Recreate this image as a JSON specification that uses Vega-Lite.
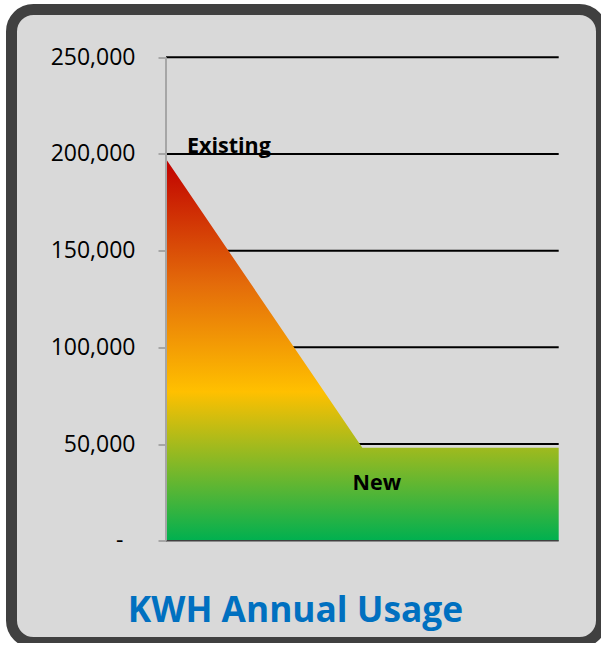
{
  "$schema": "https://vega.github.io/schema/vega-lite/v6.json",
  "width": 590,
  "height": 633,
  "autosize": {"type": "none"},
  "padding": {"left": 11.5, "top": 9.5, "right": 0, "bottom": 0},
  "background": "white",
  "title": {
    "text": "KWH Annual Usage",
    "orient": "bottom",
    "anchor": "middle",
    "offset": -20.5,
    "dx": -11,
    "baseline": "alphabetic",
    "font": "Open Sans",
    "fontSize": 35.3,
    "fontWeight": "bold",
    "color": "#0070c0"
  },
  "datasets": {
    "usage": [
      {"stage": 0, "kwh": 197400, "label": "Existing"},
      {"stage": 1, "kwh": 48100, "label": "New"},
      {"stage": 2, "kwh": 48100, "label": ""}
    ],
    "grid": [
      {"v": 0}, {"v": 50000}, {"v": 100000}, {"v": 150000}, {"v": 200000}, {"v": 250000}
    ]
  },
  "layer": [
    {
      "data": {"name": "grid"},
      "transform": [{"filter": "datum.v > 0"}],
      "mark": {"type": "rule", "color": "#000000", "strokeWidth": 2},
      "encoding": {
        "y": {
          "field": "v",
          "type": "quantitative",
          "scale": {"domain": [-52650, 274720], "nice": false, "zero": false},
          "axis": {
            "offset": -154.5,
            "domain": false,
            "grid": false,
            "values": [0, 50000, 100000, 150000, 200000, 250000],
            "tickSize": 8,
            "tickColor": "#a6a6a6",
            "tickWidth": 2,
            "labelPadding": {"condition": {"test": "datum.value == 0", "value": 35}, "value": 23},
            "labelFont": "Open Sans",
            "labelFontSize": 23,
            "labelColor": "#000000",
            "labelExpr": "datum.value == 0 ? '-' : format(datum.value, ',')",
            "title": null
          }
        },
        "x": {"datum": 0, "type": "quantitative", "scale": {"domain": [-0.7869, 2.218], "nice": false, "zero": false}, "axis": null},
        "x2": {"datum": 2}
      }
    },
    {
      "data": {"name": "usage"},
      "mark": {
        "type": "area",
        "color": {
          "gradient": "linear",
          "x1": 0, "y1": 0, "x2": 0, "y2": 1,
          "stops": [
            {"offset": 0, "color": "#c00000"},
            {"offset": 0.33, "color": "#e46c0a"},
            {"offset": 0.61, "color": "#ffc000"},
            {"offset": 1, "color": "#00b050"}
          ]
        }
      },
      "encoding": {
        "x": {"field": "stage", "type": "quantitative", "axis": null},
        "y": {"field": "kwh", "type": "quantitative"},
        "y2": {"datum": 0}
      }
    },
    {
      "data": {"values": [{"base": 0}]},
      "mark": {"type": "rule", "color": "#404040", "strokeWidth": 1.5},
      "encoding": {
        "y": {"field": "base", "type": "quantitative"},
        "x": {"datum": 0, "type": "quantitative", "axis": null},
        "x2": {"datum": 2}
      }
    },
    {
      "data": {"values": [{"stage": 0, "lo": 0, "hi": 250000}]},
      "mark": {"type": "rule", "color": "#a6a6a6", "strokeWidth": 2},
      "encoding": {
        "x": {"field": "stage", "type": "quantitative", "axis": null},
        "y": {"field": "lo", "type": "quantitative"},
        "y2": {"field": "hi"}
      }
    },
    {
      "data": {"name": "usage"},
      "transform": [{"filter": "datum.label == 'Existing'"}],
      "mark": {"type": "text", "align": "left", "baseline": "alphabetic", "dx": 21, "dy": -5.7, "font": "Open Sans", "fontSize": 21.5, "fontWeight": "bold", "color": "#000000"},
      "encoding": {
        "x": {"field": "stage", "type": "quantitative", "axis": null},
        "y": {"field": "kwh", "type": "quantitative"},
        "text": {"field": "label"}
      }
    },
    {
      "data": {"name": "usage"},
      "transform": [{"filter": "datum.label == 'New'"}],
      "mark": {"type": "text", "align": "center", "baseline": "alphabetic", "dx": 14.5, "dy": 42.3, "font": "Open Sans", "fontSize": 21.5, "fontWeight": "bold", "color": "#000000"},
      "encoding": {
        "x": {"field": "stage", "type": "quantitative", "axis": null},
        "y": {"field": "kwh", "type": "quantitative"},
        "text": {"field": "label"}
      }
    }
  ],
  "config": {
    "view": {"fill": "#d9d9d9", "stroke": "#404040", "strokeWidth": 11, "cornerRadius": 22}
  }
}
